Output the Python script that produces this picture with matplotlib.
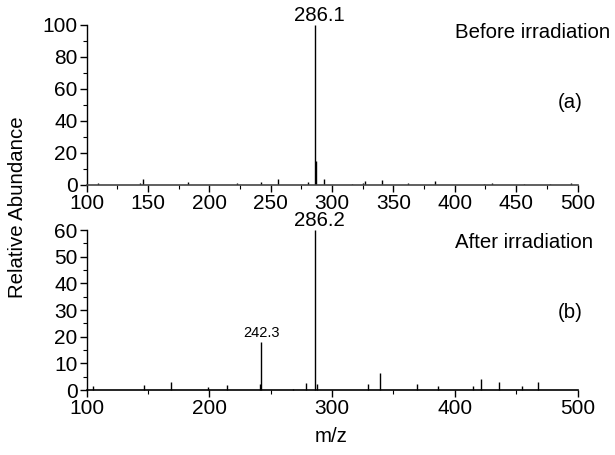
import matplotlib
matplotlib.use("Agg")
import matplotlib.pyplot as plt
from matplotlib.ticker import MultipleLocator

plt.rcParams['font.family'] = ['Liberation Sans', 'DejaVu Sans']

# Panel (a): before irradiation
mz_a = [109.4, 143.4, 146.1, 182.8, 222.2, 242.0, 255.6, 280.5, 286.1, 287.1,
        293.3, 315.9, 324.9, 326.7, 340.3, 361.7, 383.8, 423.7, 430.7, 456.2,
        477.4, 495.0]
ab_a = [1.0, 1.0, 3.7, 2.0, 1.2, 2.0, 3.7, 1.7, 100.0, 15.0,
        4.0, 0.5, 1.0, 2.7, 3.0, 1.0, 2.5, 0.5, 1.0, 0.5,
        0.5, 1.5]

# Panel (b): after irradiation
mz_b = [105.4, 146.7, 168.4, 198.5, 214.5, 241.2, 242.3, 267.8, 278.7, 286.2,
        287.4, 329.5, 339.2, 369.6, 386.5, 414.5, 421.2, 435.9, 454.4, 467.7]
ab_b = [1.5, 1.9, 3.1, 1.0, 1.9, 2.2, 18.1, 0.4, 2.5, 60.0,
        2.2, 2.2, 6.2, 2.2, 1.5, 1.5, 4.1, 3.1, 1.5, 2.9]

xticks_a = [100, 150, 200, 250, 300, 350, 400, 450, 500]
yticks_a = [0, 20, 40, 60, 80, 100]
xticks_b = [100, 200, 300, 400, 500]
yticks_b = [0, 10, 20, 30, 40, 50, 60]

FS = 14.7
TS = 15

fig = plt.figure(figsize=(6.15, 4.55), dpi=100)
W, H = 615, 455

def add_ax(x0, x1, ybot, ytop):
    return fig.add_axes([x0 / W, (H - ybot) / H, (x1 - x0) / W, (ybot - ytop) / H])

ax1 = add_ax(86.7, 577.5, 185, 25)
ax2 = add_ax(86.7, 577.5, 390, 230)

for ax in (ax1, ax2):
    ax.spines['top'].set_visible(False)
    ax.spines['right'].set_visible(False)
    ax.spines['left'].set_linewidth(1.0)
    ax.spines['bottom'].set_linewidth(1.2)
    ax.set_xlim(100, 500)
    ax.tick_params(axis='both', which='major', direction='out', length=5,
                   width=1.0, labelsize=TS, pad=1.5)
    ax.tick_params(axis='both', which='minor', direction='out', length=3,
                   width=0.8)
    ax.set_facecolor('none')

ax1.vlines(mz_a, 0, ab_a, colors='black', linewidth=1.0)
ax1.set_ylim(0, 100)
ax1.set_xticks(xticks_a)
ax1.set_yticks(yticks_a)
ax1.xaxis.set_minor_locator(MultipleLocator(25))
ax1.yaxis.set_minor_locator(MultipleLocator(10))
ax1.spines['bottom'].set_color('#444444')

ax2.vlines(mz_b, 0, ab_b, colors='black', linewidth=1.0, clip_on=False)
ax2.set_ylim(0, 60)
ax2.set_xticks(xticks_b)
ax2.set_yticks(yticks_b)
ax2.xaxis.set_minor_locator(MultipleLocator(50))
ax2.yaxis.set_minor_locator(MultipleLocator(5))

# Peak labels
i_a = ab_a.index(max(ab_a))
ax1.annotate(f"{mz_a[i_a]:.1f}", xy=(mz_a[i_a], ab_a[i_a]), xytext=(4, 0),
             textcoords='offset pixels', ha='center', va='bottom', fontsize=FS,
             annotation_clip=False)
i_b = ab_b.index(max(ab_b))
ax2.annotate(f"{mz_b[i_b]:.1f}", xy=(mz_b[i_b], ab_b[i_b]), xytext=(4, 0),
             textcoords='offset pixels', ha='center', va='bottom', fontsize=FS,
             annotation_clip=False)
ax2.annotate("242.3", xy=(242.3, 18.1), xytext=(0, 1), textcoords='offset points',
             ha='center', va='bottom', fontsize=10.5, annotation_clip=False)

fig.text(455 / W, 1 - 33 / H, "Before irradiation", fontsize=FS, ha='left', va='center')
fig.text(570 / W, 1 - 103 / H, "(a)", fontsize=FS, ha='center', va='center')
fig.text(455 / W, 1 - 242 / H, "After irradiation", fontsize=FS, ha='left', va='center')
fig.text(570 / W, 1 - 312 / H, "(b)", fontsize=FS, ha='center', va='center')

fig.text(18 / W, 1 - 207 / H, "Relative Abundance", fontsize=FS, rotation=90,
         ha='center', va='center')
fig.text(331 / W, 1 - 437 / H, "m/z", fontsize=FS, ha='center', va='center')

fig.savefig("out.png", dpi=100)
